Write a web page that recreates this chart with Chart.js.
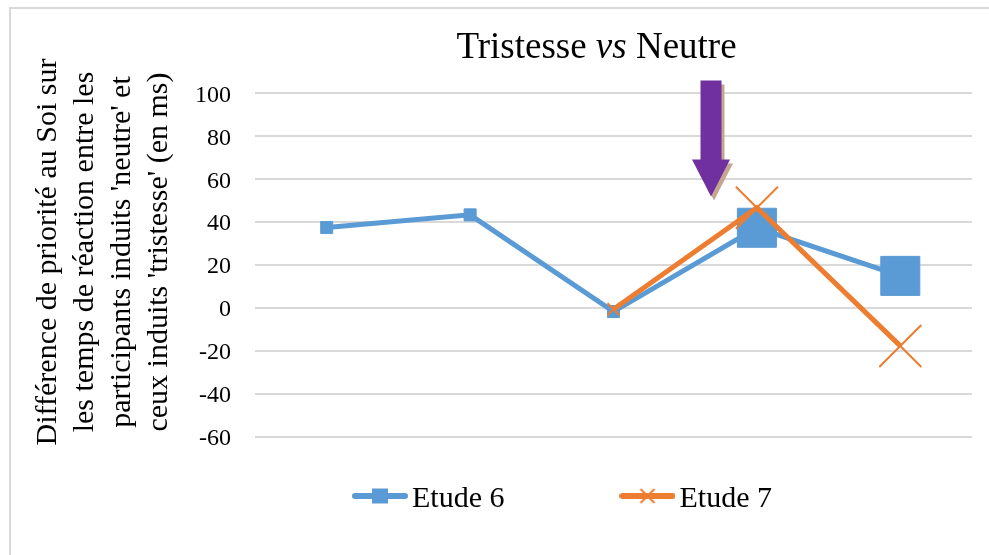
<!DOCTYPE html>
<html>
<head>
<meta charset="utf-8">
<title>Tristesse vs Neutre</title>
<script src="https://cdn.jsdelivr.net/npm/chart.js@4.4.1/dist/chart.umd.min.js"></script>
<style>
  html, body { margin: 0; background: #fff; }
  canvas { display: block; }
</style>
</head>
<body>
<canvas id="chart" width="989" height="555"></canvas>
<script>
// --- data ---
const categories = ['1', '2', '3', '4', '5'];
const etude6 = [37.5, 43.4, -1.6, 37.4, 15.0];
const etude7 = [null, null, -0.5, 46.7, -17.6];
const yMin = -60, yMax = 100, yStep = 20;

const titleParts = ['Tristesse ', 'vs', ' Neutre'];
const yTitleLines = [
    'Différence de priorité au Soi sur',
    'les temps de réaction entre les',
    "participants induits 'neutre' et",
    "ceux induits 'tristesse' (en ms)"
];
// arrow sits between the 3rd and 4th groups, pointing down at ~52 ms
const arrowAt = { index: 2.68, top: 106, tip: 52 };

// --- styles ---
const SERIF = "'Liberation Serif', 'Times New Roman', serif";
const BLUE = '#5B9BD5';
const ORANGE = '#ED7D31';
const PURPLE = '#7030A0';
const GRID = '#D9D9D9';
const legendFontSize = 30;

// small line+marker swatch used as legend point style
function legendIcon(color, marker) {
    const c = document.createElement('canvas');
    c.width = 56; c.height = 24;
    const g = c.getContext('2d');
    g.strokeStyle = color;
    g.lineWidth = 6;
    g.lineCap = 'round';
    g.beginPath(); g.moveTo(3, 9); g.lineTo(53, 9); g.stroke();
    if (marker === 'rect') {
        g.fillStyle = color;
        g.fillRect(20, 1.5, 16, 15);
    } else {
        g.lineWidth = 2;
        g.lineCap = 'butt';
        g.beginPath();
        g.moveTo(21, 2); g.lineTo(35, 16);
        g.moveTo(35, 2); g.lineTo(21, 16);
        g.stroke();
    }
    return c;
}
const legendIcons = [legendIcon(BLUE, 'rect'), legendIcon(ORANGE, 'cross')];

// white page + light frame around the chart
const frame = {
    id: 'frame',
    beforeDraw(chart) {
        const ctx = chart.ctx;
        ctx.save();
        ctx.fillStyle = '#fff';
        ctx.fillRect(0, 0, chart.width, chart.height);
        ctx.strokeStyle = GRID;
        ctx.lineWidth = 2;
        ctx.strokeRect(10, 8, chart.width + 20, chart.height + 20);
        ctx.restore();
    }
};

// title with italic "vs" and the four-line rotated y title
const headings = {
    id: 'headings',
    afterDraw(chart) {
        const ctx = chart.ctx;
        ctx.save();
        ctx.fillStyle = '#000';
        ctx.textBaseline = 'alphabetic';
        const fonts = ['37px ' + SERIF, 'italic 37px ' + SERIF, '37px ' + SERIF];
        let total = 0;
        const widths = titleParts.map((t, i) => {
            ctx.font = fonts[i];
            const w = ctx.measureText(t).width;
            total += w;
            return w;
        });
        let x = 596.5 - total / 2;
        titleParts.forEach((t, i) => {
            ctx.font = fonts[i];
            ctx.textAlign = 'left';
            ctx.fillText(t, x, 58);
            x += widths[i];
        });

        ctx.font = '30px ' + SERIF;
        ctx.textAlign = 'center';
        yTitleLines.forEach((line, i) => {
            ctx.save();
            ctx.translate(55.5 + i * 37.3, 252);
            ctx.rotate(-Math.PI / 2);
            ctx.fillText(line, 0, 0);
            ctx.restore();
        });
        ctx.restore();
    }
};

// purple block arrow with a flat offset shadow
const arrow = {
    id: 'arrow',
    afterDatasetsDraw(chart) {
        const { ctx, scales: { x, y } } = chart;
        const cx = x.getPixelForValue(arrowAt.index);
        const top = y.getPixelForValue(arrowAt.top);
        const tip = y.getPixelForValue(arrowAt.tip);
        const headTop = tip - 37;
        const shaft = 10.5, head = 19;
        const path = (dx, dy) => {
            ctx.beginPath();
            ctx.moveTo(cx - shaft + dx, top + dy);
            ctx.lineTo(cx + shaft + dx, top + dy);
            ctx.lineTo(cx + shaft + dx, headTop + dy);
            ctx.lineTo(cx + head + dx, headTop + dy);
            ctx.lineTo(cx + dx, tip + dy);
            ctx.lineTo(cx - head + dx, headTop + dy);
            ctx.lineTo(cx - shaft + dx, headTop + dy);
            ctx.closePath();
        };
        ctx.save();
        path(3, 4);
        ctx.fillStyle = '#C3A590';
        ctx.fill();
        path(0, 0);
        ctx.fillStyle = PURPLE;
        ctx.fill();
        ctx.restore();
    }
};

// place the legend row under the plot, left of centre
const legendPlace = {
    id: 'legendPlace',
    afterLayout(chart) {
        const lg = chart.legend;
        if (!lg || !lg.lineWidths) return;
        const pad = lg.options.labels.padding;
        const start = (lg.left + pad + lg.right - lg.lineWidths[0]) / 2;
        const dx = 363 - start;
        const dy = 499 - (lg.top + pad + legendFontSize / 2);
        lg.left += dx; lg.right += dx;
        lg.top += dy;
        lg.bottom = chart.height;
        lg.width = lg.right - lg.left;
        lg.height = lg.bottom - lg.top;
    }
};

new Chart(document.getElementById('chart'), {
    type: 'line',
    data: {
        labels: categories,
        datasets: [
            {
                label: 'Etude 6',
                data: etude6,
                borderColor: BLUE,
                backgroundColor: BLUE,
                borderWidth: 5,
                pointStyle: 'rect',
                pointRadius: [8.5, 8.5, 8.5, 27.6, 27.6],
                pointBorderWidth: 1,
                pointBackgroundColor: BLUE,
                pointBorderColor: BLUE,
                order: 1
            },
            {
                label: 'Etude 7',
                data: etude7,
                borderColor: ORANGE,
                backgroundColor: ORANGE,
                borderWidth: 5,
                pointStyle: 'crossRot',
                pointRadius: [0, 0, 8.5, 29.7, 29.7],
                pointBorderWidth: 2,
                pointBorderColor: ORANGE,
                order: 0
            }
        ]
    },
    options: {
        responsive: false,
        animation: false,
        events: [],
        layout: { autoPadding: false, padding: { top: 93.3, right: 17, bottom: 58, left: 0 } },
        elements: { line: { tension: 0 } },
        scales: {
            x: {
                display: false,
                offset: true
            },
            y: {
                min: yMin,
                max: yMax,
                afterFit: s => { s.width = 255; },
                border: { display: false },
                grid: { color: GRID, lineWidth: 2, drawTicks: false },
                ticks: {
                    stepSize: yStep,
                    padding: 24,
                    labelOffset: 2,
                    color: '#000',
                    font: { family: SERIF, size: 24 }
                },
                title: { display: false }
            }
        },
        plugins: {
            title: { display: false },
            tooltip: { enabled: false },
            legend: {
                position: 'bottom',
                maxHeight: 60,
                labels: {
                    usePointStyle: true,
                    pointStyleWidth: 34,
                    padding: 126,
                    color: '#000',
                    font: { family: SERIF, size: legendFontSize },
                    sort: (a, b) => a.datasetIndex - b.datasetIndex,
                    generateLabels: chart =>
                        Chart.defaults.plugins.legend.labels.generateLabels(chart)
                            .map(l => Object.assign(l, { pointStyle: legendIcons[l.datasetIndex] }))
                }
            }
        }
    },
    plugins: [frame, arrow, headings, legendPlace]
});
</script>
</body>
</html>
